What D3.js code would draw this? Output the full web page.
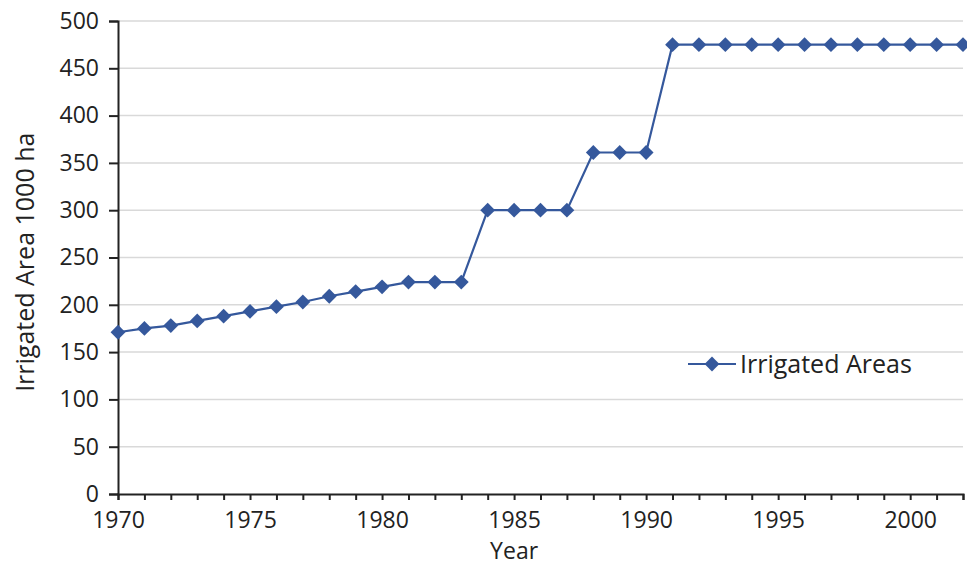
<!DOCTYPE html>
<html>
<head>
<meta charset="utf-8">
<script src="https://cdn.jsdelivr.net/npm/d3@7"></script>
<style>
  html, body { margin: 0; padding: 0; background: #fff; }
  svg { display: block; }
  text { font-family: "Open Sans", Lato, sans-serif; fill: #222; }
</style>
</head>
<body>
<svg id="chart" width="967" height="566"></svg>
<script>
const years = d3.range(1970, 2003);
const irrigated = [171, 175, 178, 183, 188, 193, 198, 203, 209, 214, 219, 224, 224, 224,
                   300, 300, 300, 300, 361, 361, 361,
                   475, 475, 475, 475, 475, 475, 475, 475, 475, 475, 475, 475];
const yTicks = [0, 50, 100, 150, 200, 250, 300, 350, 400, 450, 500];
const xLabelYears = [1970, 1975, 1980, 1985, 1990, 1995, 2000];
const seriesName = "Irrigated Areas";
const xTitle = "Year";
const yTitle = "Irrigated Area 1000 ha";

const color = "#35589c";
const svg = d3.select("#chart");
const x = d3.scaleLinear().domain([1970, 2002]).range([118, 963]);
const y = d3.scaleLinear().domain([0, 500]).range([494, 21]);

// gridlines
svg.append("g").selectAll("line").data(yTicks.filter(d => d > 0)).join("line")
  .attr("x1", x(1970)).attr("x2", x(2002))
  .attr("y1", d => y(d)).attr("y2", d => y(d))
  .attr("stroke", "#d9d9d9").attr("stroke-width", 1.5);

// y axis
const yAxis = svg.append("g").attr("transform", `translate(${x(1970)},0)`)
  .call(d3.axisLeft(y).tickValues(yTicks).tickSize(9).tickPadding(10));
yAxis.select(".domain").attr("stroke", "#222").attr("stroke-width", 2);
yAxis.selectAll(".tick line").attr("stroke", "#222").attr("stroke-width", 2);
yAxis.selectAll(".tick text").style("font-size", "23px").attr("fill", "#222");

// x axis
const xAxis = svg.append("g").attr("transform", `translate(0,${y(0)})`)
  .call(d3.axisBottom(x).tickValues(years).tickSize(6).tickPadding(12)
    .tickFormat(d => xLabelYears.includes(d) ? String(d) : ""));
xAxis.select(".domain").attr("stroke", "#222").attr("stroke-width", 2);
xAxis.selectAll(".tick line").attr("stroke", "#222").attr("stroke-width", 2);
xAxis.selectAll(".tick text").style("font-size", "23px").attr("fill", "#222");

// titles
svg.append("text").attr("x", x(1985)).attr("y", 559)
  .attr("text-anchor", "middle").style("font-size", "23px").text(xTitle);
svg.append("text").attr("transform", `translate(34,${y(245)}) rotate(-90)`)
  .attr("text-anchor", "middle").style("font-size", "25px").text(yTitle);

// line
const data = years.map((yr, i) => ({ year: yr, value: irrigated[i] }));
svg.append("path").datum(data)
  .attr("fill", "none").attr("stroke", color).attr("stroke-width", 2.2)
  .attr("d", d3.line().x(d => x(d.year)).y(d => y(d.value)));

const diamond = d3.symbol().type(d3.symbolSquare).size(110);
svg.append("g").selectAll("path").data(data).join("path")
  .attr("transform", d => `translate(${x(d.year)},${y(d.value)}) rotate(45)`)
  .attr("d", diamond).attr("fill", color);

// legend
const lg = svg.append("g").attr("transform", "translate(688,364)");
lg.append("line").attr("x1", 0).attr("x2", 48).attr("stroke", color).attr("stroke-width", 2.2);
lg.append("path").attr("transform", "translate(24,0) rotate(45)").attr("d", diamond).attr("fill", color);
lg.append("text").attr("x", 52).attr("y", 9).style("font-size", "25px").text(seriesName);
</script>
</body>
</html>
